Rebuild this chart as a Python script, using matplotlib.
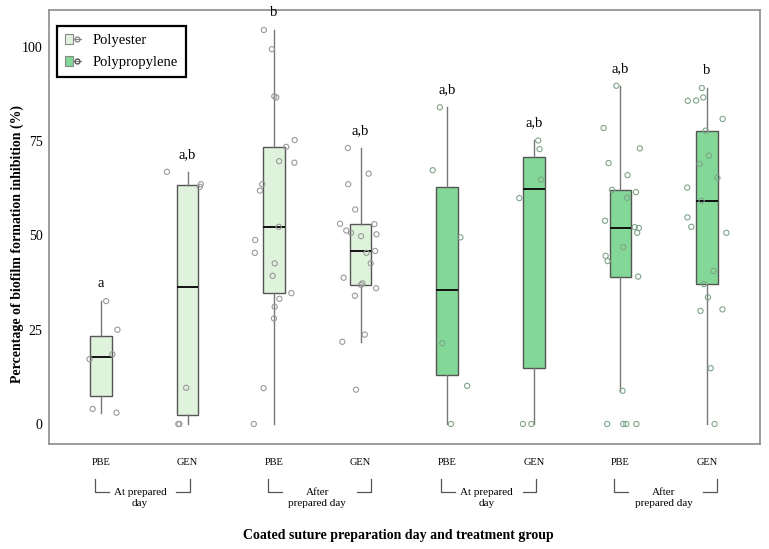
import numpy as np
import matplotlib
matplotlib.use("Agg")
import matplotlib.pyplot as plt
from matplotlib.patches import Patch
from matplotlib.lines import Line2D
from matplotlib.legend_handler import HandlerTuple
import matplotlib.transforms as mtransforms

plt.rcParams['font.family'] = ['Liberation Serif', 'DejaVu Serif']

# ---------------- data ----------------
treatments = ["PBE", "GEN", "PBE", "GEN", "PBE", "GEN", "PBE", "GEN"]
materials = ["Polyester", "Polyester", "Polyester", "Polyester",
             "Polypropylene", "Polypropylene", "Polypropylene", "Polypropylene"]
day_line1 = ["At prepared", "After", "At prepared", "After"]
day_line2 = ["day", "prepared day", "day", "prepared day"]
day_kind = ["at", "after", "at", "after"]

polyester_at_PBE = [32.6, 25.0, 18.5, 17.2, 4.0, 3.0]
polyester_at_GEN = [66.9, 63.6, 62.9, 9.6, 0.0, 0.0]
polyester_after_PBE = [104.5, 99.4, 86.9, 86.6, 75.3, 73.5, 69.7, 69.3, 63.6, 61.9, 52.3,
                       48.8, 45.4, 42.6, 39.3, 34.7, 33.2, 31.1, 28.0, 9.5, 0.0]
polyester_after_GEN = [73.2, 66.4, 63.6, 56.9, 53.1, 53.0, 51.3, 50.7, 50.3, 49.8, 45.9,
                       45.4, 42.6, 38.8, 37.3, 36.9, 36.0, 34.0, 23.7, 21.8, 9.1]
polyprop_at_PBE = [84.0, 67.3, 49.5, 21.4, 10.1, 0.0]
polyprop_at_GEN = [75.2, 72.9, 64.8, 59.9, 0.0, 0.0]
polyprop_after_PBE = [89.7, 78.5, 73.1, 69.2, 66.0, 62.1, 61.5, 60.0, 53.9, 52.2, 52.0,
                      50.7, 46.9, 44.6, 43.2, 39.1, 8.8, 0.0, 0.0, 0.0, 0.0]
polyprop_after_GEN = [89.1, 86.6, 85.8, 85.7, 80.9, 77.8, 71.2, 69.0, 65.3, 62.7, 59.2,
                      54.8, 52.3, 50.7, 40.6, 37.1, 33.6, 30.4, 30.0, 14.8, 0.0]

groups = [polyester_at_PBE, polyester_at_GEN, polyester_after_PBE, polyester_after_GEN,
          polyprop_at_PBE, polyprop_at_GEN, polyprop_after_PBE, polyprop_after_GEN]
letters = ["a", "a,b", "b", "a,b", "a,b", "a,b", "a,b", "b"]
yticks = [0, 25, 50, 75, 100]

# ---------------- style ----------------
fill = {"Polyester": "#dff3dc", "Polypropylene": "#84d897"}
pt_edge = {"Polyester": "#9a9a9a", "Polypropylene": "#7fa58a"}

fig = plt.figure(figsize=(7.69, 5.49), dpi=100)
ax = fig.add_axes([0.0637, 0.1913, 0.9243, 0.7905])

pos = np.arange(len(groups))
bp = ax.boxplot(groups, positions=pos, widths=0.25, whis=1.5, showfliers=False,
                showcaps=False, patch_artist=True,
                boxprops=dict(edgecolor="#555555", linewidth=1.0),
                whiskerprops=dict(color="#777777", linewidth=1.0),
                medianprops=dict(color="#111111", linewidth=1.4))
for patch, m in zip(bp["boxes"], materials):
    patch.set_facecolor(fill[m])

rng = np.random.default_rng(7)
for i, (vals, m) in enumerate(zip(groups, materials)):
    jit = rng.uniform(-0.24, 0.24, len(vals))
    ax.scatter(pos[i] + jit, vals, s=14, facecolors="none", edgecolors=pt_edge[m],
               linewidths=0.8, zorder=3)
    ax.text(pos[i], max(vals) + 4.6, letters[i], ha="center", va="center", fontsize=10.5)

ax.set_xlim(-0.6, 7.61)
ax.set_ylim(-5.3, 109.8)
ax.set_yticks(yticks)
ax.set_yticklabels([str(t) for t in yticks], fontsize=10)
ax.set_xticks(pos)
ax.set_xticklabels(treatments, fontsize=7.5)
ax.tick_params(axis="both", length=0)
ax.tick_params(axis="y", pad=4.5)
ax.tick_params(axis="x", pad=10)
for s in ax.spines.values():
    s.set_color("#8c8c8c")
    s.set_linewidth(1.2)

fig.text(0.022, 0.555, "Percentage of biofilm formation inhibition (%)", rotation=90,
         ha="center", va="center", fontsize=10, fontweight="bold")
fig.text(0.518, 0.0255, "Coated suture preparation day and treatment group",
         ha="center", va="center", fontsize=10, fontweight="bold")

# brackets under the x ticks
trans = mtransforms.blended_transform_factory(ax.transData, ax.transAxes)
y_top, y_bot = -0.081, -0.111
for k, kind in enumerate(day_kind):
    xl = pos[2 * k] - 0.07
    xr = pos[2 * k + 1] + (0.03 if kind == "at" else 0.12)
    stub = 0.16
    kw = dict(color="#555555", linewidth=0.9, transform=trans, clip_on=False)
    ax.plot([xl, xl, xl + stub], [y_top, y_bot, y_bot], **kw)
    ax.plot([xr - stub, xr, xr], [y_bot, y_bot, y_top], **kw)
    xc = (pos[2 * k] + pos[2 * k + 1]) / 2 - (0.05 if kind == "at" else 0.0)
    ax.text(xc, y_bot, day_line1[k], ha="center", va="center", transform=trans, fontsize=8)
    ax.text(xc, y_bot - 0.026, day_line2[k], ha="center", va="center", transform=trans,
            fontsize=8)

# legend
h_pe = (Patch(facecolor=fill["Polyester"], edgecolor="#888888", linewidth=0.8),
        Line2D([], [], color="#888888", linewidth=0.8, marker="o", markersize=3.5,
               markerfacecolor="none", markeredgecolor="#888888"))
h_pp = (Patch(facecolor=fill["Polypropylene"], edgecolor="#888888", linewidth=0.8),
        Line2D([], [], color="#888888", linewidth=0.8, marker="o", markersize=3.5,
               markerfacecolor="none", markeredgecolor="#555555"))
leg = ax.legend([h_pe, h_pp], ["Polyester", "Polypropylene"],
                handler_map={tuple: HandlerTuple(ndivide=None, pad=0)},
                loc="upper left", bbox_to_anchor=(0.011, 0.963), borderaxespad=0,
                fontsize=10.5, fancybox=False, framealpha=1, edgecolor="black",
                handlelength=1.1, handleheight=0.7, borderpad=0.55, labelspacing=0.6,
                handletextpad=0.8)
leg.get_frame().set_linewidth(1.6)

fig.savefig("out.png", dpi=100)
